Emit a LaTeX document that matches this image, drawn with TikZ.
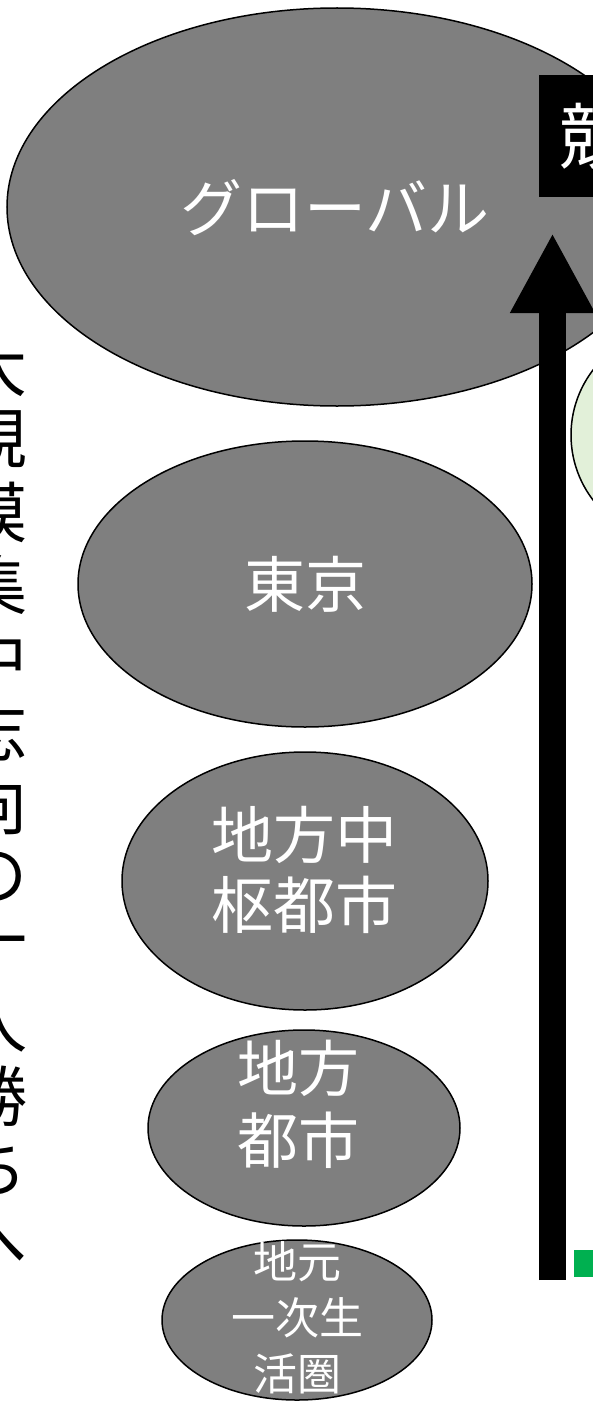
\documentclass[tikz,border=0pt]{standalone}
\usepackage{fontspec}
\newfontfamily\jp{Noto Sans CJK JP}
\usetikzlibrary{shapes.geometric,arrows.meta}
\definecolor{gfill}{HTML}{7F7F7F}
\definecolor{lgreen}{HTML}{E2F0D9}
\definecolor{sgreen}{HTML}{00B050}
\tikzset{
  blob/.style={ellipse, draw=black, line width=1.5pt, fill=gfill, inner sep=0pt},
  lab/.style={text=white, align=center, inner sep=0pt},
  vchar/.style={text=black, inner sep=0pt, font={\jp\fontsize{66}{66}\selectfont}},
  bigarrow/.style={line width=27pt, -{Triangle[length=80pt,width=79pt]}}
}
\begin{document}
\begin{tikzpicture}[x=1pt,y=-1pt]
\useasboundingbox (0,0) rectangle (593,1402);
\clip (0,0) rectangle (593,1402);
\fill[white] (0,0) rectangle (593,1402);

% ellipses
\node[blob, minimum width=660pt, minimum height=398pt] (glob) at (337,207) {};
\node[lab, font={\jp\fontsize{62}{72}\selectfont}] (globt) at (335,208) {グローバル};

\node[blob, minimum width=454pt, minimum height=286pt] (tokyo) at (305,584) {};
\node[lab, font={\jp\fontsize{61}{72}\selectfont}] (tokyot) at (305,584) {東京};

\node[blob, minimum width=366pt, minimum height=258pt] (chusu) at (305,881) {};
\node[lab, font={\jp\fontsize{62}{70}\selectfont}] (chusut) at (304,870) {地方中\\枢都市};

\node[blob, minimum width=312pt, minimum height=196pt] (chiho) at (304,1128) {};
\node[lab, font={\jp\fontsize{61}{72}\selectfont}] (chihot) at (298,1104) {地方\\都市};

\node[blob, minimum width=270pt, minimum height=160pt] (jimoto) at (297,1320) {};
\node[lab, font={\jp\fontsize{44}{56}\selectfont}] (jimotot) at (297,1318) {地元\\一次生\\活圏};

% black label box (clipped at right)
\node[fill=black, minimum width=80pt, minimum height=122pt, anchor=north west, inner sep=0pt] (box) at (539,75) {};
\node[text=white, anchor=west, inner sep=0pt, font={\jp\fontsize{72}{72}\selectfont}] (kyo) at (559,136) {競};

% big upward arrow
\coordinate (abot) at (552.5,1280);
\coordinate (atop) at (552.5,233);
\draw[bigarrow] (abot) -- (atop);

% green circle (clipped)
\node[circle, draw=black, line width=1.5pt, fill=lgreen, minimum size=214pt, inner sep=0pt] (gcirc) at (678,435) {};

% green square
\node[fill=sgreen, minimum width=30pt, minimum height=27pt, anchor=north west, inner sep=0pt] (gsq) at (574,1250) {};

% clipped vertical text on the left
\foreach \c [count=\i] in {大,規,模,集,中,志,向,の,一,人,勝,ち,へ}
  \node[vchar] (v\i) at (-5,{366+73*(\i-1)}) {\c};
\end{tikzpicture}
\end{document}
